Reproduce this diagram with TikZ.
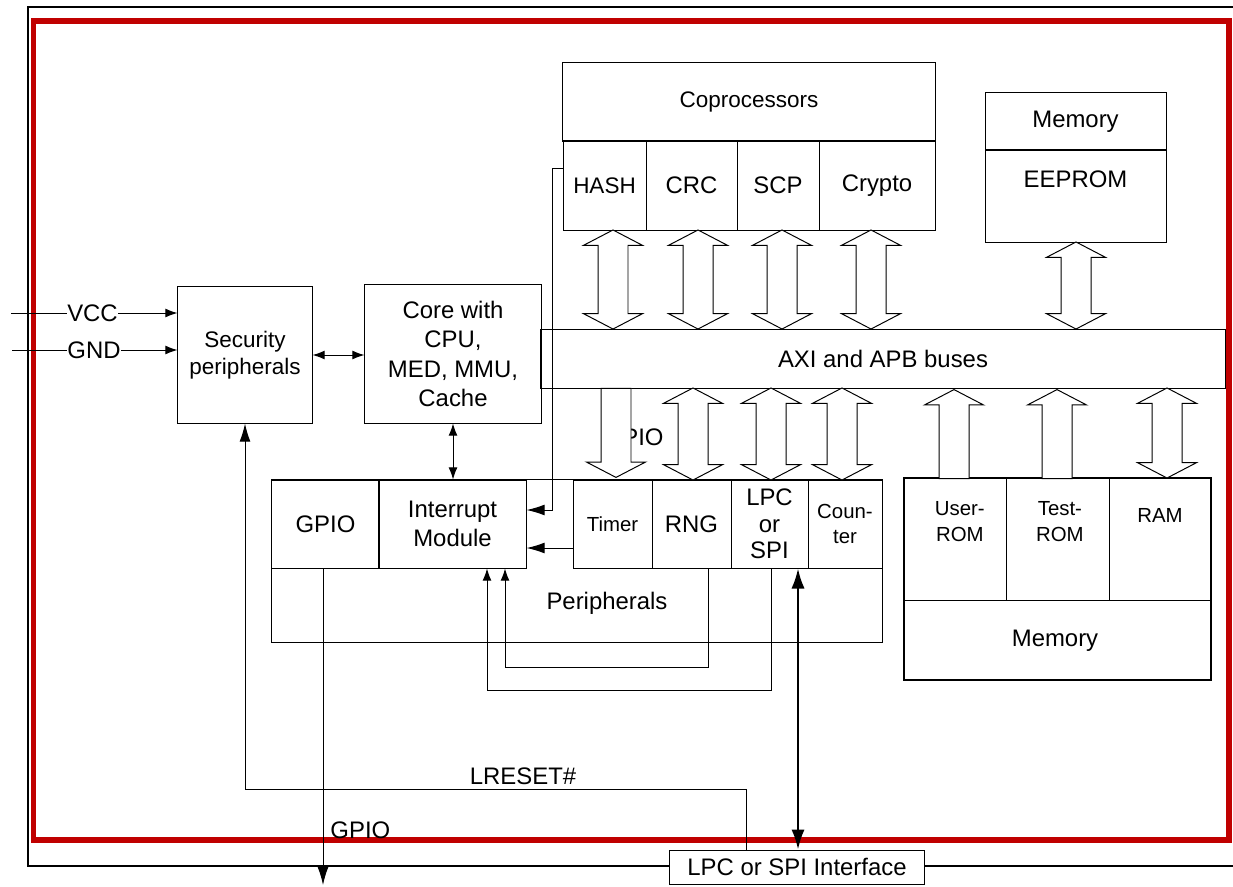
\documentclass[tikz,border=0pt]{standalone}
\usepackage{fontspec}
\setmainfont{Liberation Sans}
\usetikzlibrary{arrows.meta,shapes.arrows}

\definecolor{framered}{RGB}{192,0,0}

\begin{document}
\begin{tikzpicture}[x=0.025cm, y=-0.025cm, line width=0.7pt,
  font=\fontsize{17}{21}\selectfont,
  block/.style={draw, inner sep=0pt, align=center},
  small/.style={font=\fontsize{14.5}{18}\selectfont},
  mid/.style={font=\fontsize{16}{19}\selectfont},
  busdbl/.style={double arrow, draw, fill=white, shape border rotate=90, inner sep=0.3625cm,
    minimum width=1.45cm, double arrow head extend=0.3625cm, double arrow tip angle=125},
  busone/.style={single arrow, draw, fill=white, inner sep=0.3625cm,
    minimum width=1.45cm, single arrow head extend=0.3625cm, single arrow tip angle=125},
  sig/.style={-{Latex[length=3mm,width=2.2mm]}},
  sigboth/.style={{Latex[length=3mm,width=2.2mm]}-{Latex[length=3mm,width=2.2mm]}},
  irq/.style={-{Latex[length=4.5mm,width=2.7mm]}},
  bold/.style={line width=1.6pt, {Latex[length=5mm,width=3.3mm]}-{Latex[length=5mm,width=3.3mm]}}]
\useasboundingbox (0,0) rectangle (1233,886);

% LPC or SPI interface
\node[block, minimum width=6.35cm, minimum height=0.85cm] (lpcif) at (797,867) {LPC or SPI Interface};

% Chip frames
\draw[line width=1pt] (1233,7) -- (28,7) -- (28,866) -- (lpcif.west |- 0,866);
\draw[line width=1pt] (lpcif.east |- 0,866) -- (1233,866);
\draw[framered, line width=4pt] (33.5,21) rectangle (1229,840);

% Security and core
\node[block, mid, minimum width=3.35cm, minimum height=3.4cm] (sec) at (245,355) {Security\\peripherals};
\node[block, minimum width=4.4cm, minimum height=3.45cm] (core) at (453,354) {Core with\\CPU,\\MED, MMU,\\Cache};

% Coprocessors
\node[block, mid, minimum width=9.3cm, minimum height=1.95cm] (copro) at (749,102) {Coprocessors};
\node[block, mid, minimum width=2.075cm, minimum height=2.225cm] (hash) at (604.5,185.5) {HASH};
\node[block, minimum width=2.275cm, minimum height=2.225cm] (crc) at (691.5,185.5) {CRC};
\node[block, minimum width=2.05cm, minimum height=2.225cm] (scp) at (778,185.5) {SCP};
\node[block, minimum width=2.9cm, minimum height=2.225cm] (crypto) at (877,185.5) {Crypto};

% Memory (EEPROM)
\node[block, minimum width=4.525cm, minimum height=1.425cm] (memtop) at (1075.5,121.5) {Memory};
\node[block, minimum width=4.525cm, minimum height=2.3cm,
  label={[anchor=center, yshift=-0.75cm]north:EEPROM}] (eeprom) at (1075.5,196) {};

% Buses
\node[block, minimum width=17.1cm, minimum height=1.475cm] (bus) at (883,358.5) {AXI and APB buses};

% Peripherals
\node[block, minimum width=15.25cm, minimum height=4.05cm] (periph) at (577,561) {};
\node (periphlbl) at (607,603) {Peripherals};
\node[block, minimum width=2.675cm, minimum height=2.2cm] (gpio) at (325.5,524) {GPIO};
\node[block, minimum width=3.675cm, minimum height=2.2cm] (intr) at (452.5,524) {Interrupt\\Module};
\node[block, small, minimum width=1.975cm, minimum height=2.2cm] (timer) at (612.5,524) {Timer};
\node[block, minimum width=1.975cm, minimum height=2.2cm] (rng) at (691.5,524) {RNG};
\node[block, font=\fontsize{17}{19}\selectfont, minimum width=1.925cm, minimum height=2.2cm] (lpc) at (769.5,524) {LPC\\or\\SPI};
\node[block, small, minimum width=1.85cm, minimum height=2.2cm] (counter) at (845,524) {Coun-\\ter};

% Memory (ROM and RAM)
\node[block, line width=1pt, minimum width=7.675cm, minimum height=5.05cm] (membot) at (1057.5,579) {};
\node (membotlbl) at (1055,641) {Memory};
\node[block, minimum width=2.55cm, minimum height=3.05cm,
  label={[small, align=center, anchor=center, xshift=0.12cm, yshift=-1.1cm]north:User-\\ROM}] (userrom) at (955,539) {};
\node[block, minimum width=2.575cm, minimum height=3.05cm,
  label={[small, align=center, anchor=center, xshift=0.06cm, yshift=-1.1cm]north:Test-\\ROM}] (testrom) at (1057.5,539) {};
\node[block, minimum width=2.55cm, minimum height=3.05cm,
  label={[small, anchor=center, yshift=-0.95cm]north:RAM}] (ram) at (1160,539) {};

% Bus links
\node[busdbl, minimum height=2.475cm] (ahash) at (613,279.5) {};
\node[busdbl, minimum height=2.475cm] (acrc) at (698,279.5) {};
\node[busdbl, minimum height=2.475cm] (ascp) at (782,279.5) {};
\node[busdbl, minimum height=2.475cm] (acrypto) at (871,279.5) {};
\node[busdbl, minimum height=2.175cm] (aeeprom) at (1076,285.5) {};
\node[anchor=east, inner sep=0pt] (piolbl) at (664,437) {PIO};
\node[busone, shape border rotate=270, minimum height=2.225cm] (atimer) at (616,429) {};
\node[busdbl, minimum height=2.3cm] (arng) at (693,434) {};
\node[busdbl, minimum height=2.3cm] (alpc) at (771,434) {};
\node[busdbl, minimum height=2.3cm] (acounter) at (842,434) {};
\node[busone, shape border rotate=90, minimum height=2.225cm] (auserrom) at (954,438) {};
\node[busone, shape border rotate=90, minimum height=2.225cm] (atestrom) at (1057,438) {};
\node[busdbl, minimum height=2.25cm] (aram) at (1167,433) {};

% Supply inputs
\coordinate (vccin) at (11,313);
\coordinate (gndin) at (12,350);
\node[inner sep=0pt] (vcc) at (92.5,313) {VCC};
\node[inner sep=0pt] (gnd) at (94,350) {GND};
\draw (vccin) -- (vcc.west);
\draw[sig] (vcc.east) -- (sec.west |- vcc.east);
\draw (gndin) -- (gnd.west);
\draw[sig] (gnd.east) -- (sec.west |- gnd.east);

% Signals
\draw[sigboth] (sec.east) -- (core.west |- sec.east);
\draw[sigboth] (core.south) -- (core.south |- intr.north);
\draw[irq] (hash.west |- 0,168) -- (552,168) |- (intr.east |- 0,510);
\draw[irq] (timer.west |- 0,548) -- (intr.east |- 0,548);
\draw[sig] (rng.south -| 708,0) |- (505,667) -- (intr.south -| 505,0);
\draw[sig] (lpc.south -| 771,0) |- (487,690) -- (intr.south -| 487,0);
\draw[bold] (lpc.south -| 798,0) -- (lpcif.north -| 798,0);
\draw[irq] (gpio.south -| 323,0) -- (323,885);
\node[anchor=west, inner sep=0pt] (gpiolbl) at (330,830) {GPIO};
\draw[irq] (lpcif.north -| 746,0) |- (sec.south |- 0,789) -- (sec.south);
\node (lresetlbl) at (523,776) {LRESET\#};

\end{tikzpicture}
\end{document}
